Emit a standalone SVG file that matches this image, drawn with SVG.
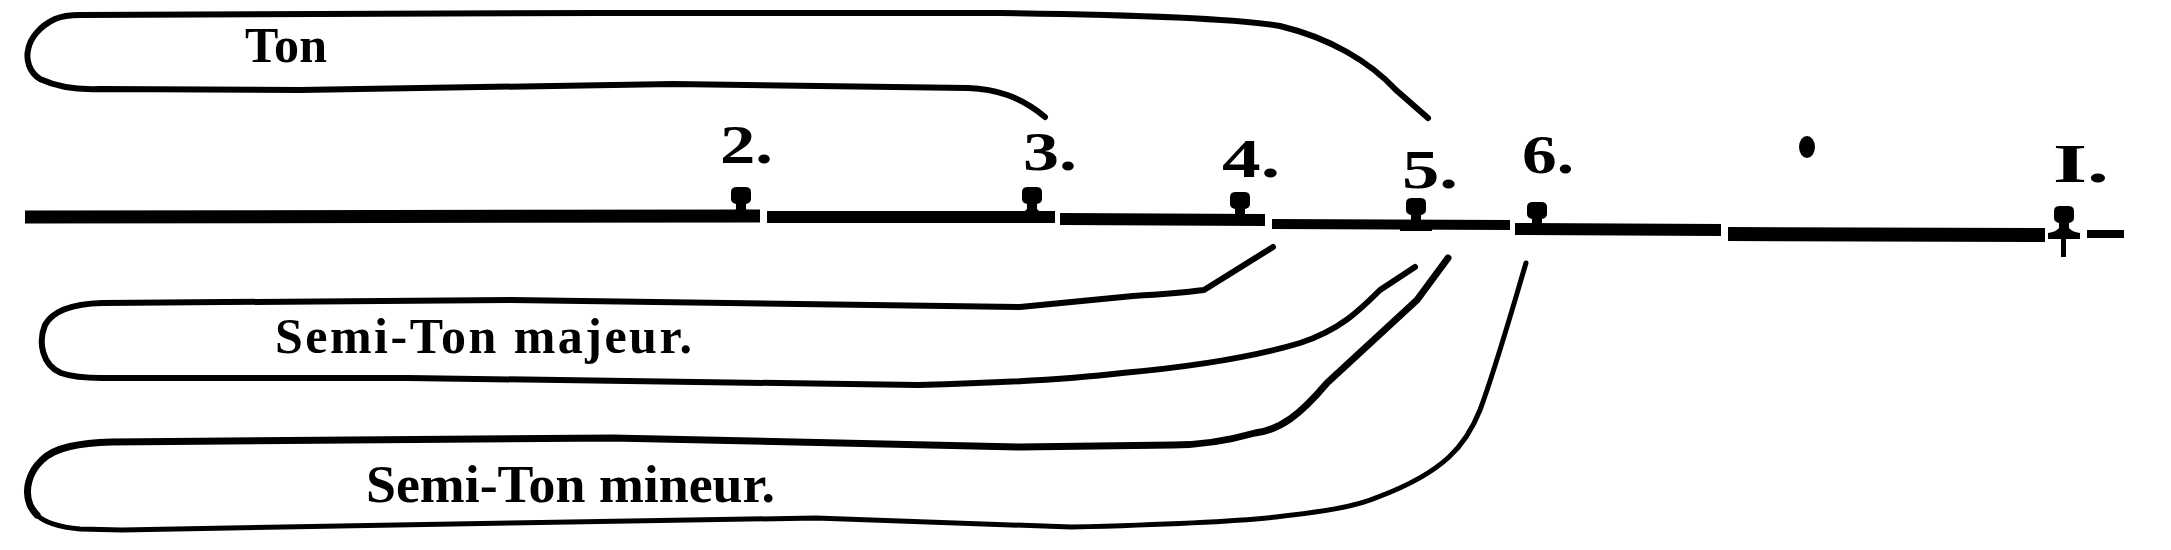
<svg xmlns="http://www.w3.org/2000/svg" width="2171" height="550" viewBox="0 0 2171 550">
<style>
.bg{fill:#fff}
.ink{fill:#000}
.br{fill:none;stroke:#000;stroke-linecap:round;stroke-linejoin:round}
.lbl{font-family:"Liberation Serif","Times New Roman",serif;font-weight:bold;fill:#000}
.num{font-family:"Liberation Serif","Times New Roman",serif;font-weight:bold;font-size:54px;fill:#000}
.seg{stroke:#000;stroke-linecap:butt;fill:none}
</style>
<defs>
<path id="tick" d="M -10,5 Q -10,0 -4,0 L 4,0 Q 10,0 10,5 L 10,12 Q 10,16 5,17 L 5,22 Q 8,26 16,27 L 16,33 L -16,33 L -16,27 Q -8,26 -5,22 L -5,17 Q -10,16 -10,12 Z"/>
</defs>
<rect class="bg" x="0" y="0" width="2171" height="550"/>

<g id="connectors">
<path id="ton" class="br" stroke-width="6" d="M 1045,117 C 1020,96 995,89 968,88 L 673,84 L 300,90 L 100,89 C 75,90 55,86 40,79 C 29,72 26,60 28,50 C 30,38 40,26 55,19 C 62,16 70,15 80,15 L 600,13 L 1000,13 C 1150,15 1240,19 1280,26 C 1330,38 1370,62 1396,90 L 1428,118"/>
<path id="majeur" class="br" stroke-width="6" d="M 1273,247 L 1204,290 C 1180,293 1150,295 1133,296 L 1020,307 L 510,300 L 102,303 C 70,304 52,312 45,325 C 38,342 42,365 61,373 C 75,378 90,378 102,378 L 408,378 L 918,385 C 1000,383 1080,378 1122,373 C 1200,366 1260,355 1300,343 C 1340,330 1360,310 1380,290 L 1415,267"/>
<path id="mineur-top" class="br" stroke-width="7" d="M 1448,258 L 1417,300 L 1327,383 C 1300,415 1280,430 1255,433 C 1230,440 1200,445 1173,445 L 1020,447 L 612,438 L 112,442 C 80,443 55,447 42,460 C 29,472 24,490 30,505 C 32,509 34,512 37,515"/>
<path id="mineur-bottom" class="br" stroke-width="5" d="M 37,515 C 45,523 58,527 80,529 L 122,530 L 510,523 L 816,518 L 1071,527 C 1150,525 1230,522 1276,517 C 1320,512 1355,507 1378,497 C 1410,485 1435,470 1449,457 C 1462,445 1472,430 1480,410 C 1495,370 1512,310 1526,263"/>
</g>

<g id="staff">
<path class="seg" stroke-width="13" d="M 25,217 L 760,216"/>
<path class="seg" stroke-width="12" d="M 767,217 L 1055,217"/>
<path class="seg" stroke-width="12" d="M 1060,219 L 1265,220"/>
<path class="seg" stroke-width="10" d="M 1272,224 L 1510,225"/>
<path class="seg" stroke-width="12" d="M 1515,229 L 1721,230"/>
<path class="seg" stroke-width="14" d="M 1728,234 L 2045,235"/>
<path class="seg" stroke-width="8" d="M 2087,234 L 2124,234"/>
</g>

<g id="node-2"><use href="#tick" class="ink" x="741" y="187"/><text class="num" x="720" y="163" textLength="53" lengthAdjust="spacingAndGlyphs">2.</text></g>
<g id="node-3"><use href="#tick" class="ink" x="1032" y="187"/><text class="num" x="1023" y="170" textLength="54" lengthAdjust="spacingAndGlyphs">3.</text></g>
<g id="node-4"><use href="#tick" class="ink" x="1240" y="192"/><text class="num" x="1222" y="177" textLength="58" lengthAdjust="spacingAndGlyphs">4.</text></g>
<g id="node-5"><use href="#tick" class="ink" x="1416" y="198"/><text class="num" x="1402" y="188" textLength="56" lengthAdjust="spacingAndGlyphs">5.</text></g>
<g id="node-6"><use href="#tick" class="ink" x="1537" y="202"/><text class="num" x="1522" y="173" textLength="52" lengthAdjust="spacingAndGlyphs">6.</text></g>
<g id="node-dot"><ellipse class="ink" cx="1807" cy="147" rx="8" ry="11"/></g>
<g id="node-1"><use href="#tick" class="ink" x="2064" y="206"/><rect class="ink" x="2061" y="235" width="5" height="22"/><text class="num" x="2053" y="182" textLength="56" lengthAdjust="spacingAndGlyphs">I.</text></g>

<g id="label-ton"><text class="lbl" x="245" y="62" font-size="50" textLength="82" lengthAdjust="spacing">Ton</text></g>
<g id="label-majeur"><text class="lbl" x="275" y="353" font-size="50" textLength="417" lengthAdjust="spacing">Semi-Ton majeur.</text></g>
<g id="label-mineur"><text class="lbl" x="366" y="502" font-size="52" textLength="409" lengthAdjust="spacingAndGlyphs">Semi-Ton mineur.</text></g>
</svg>
